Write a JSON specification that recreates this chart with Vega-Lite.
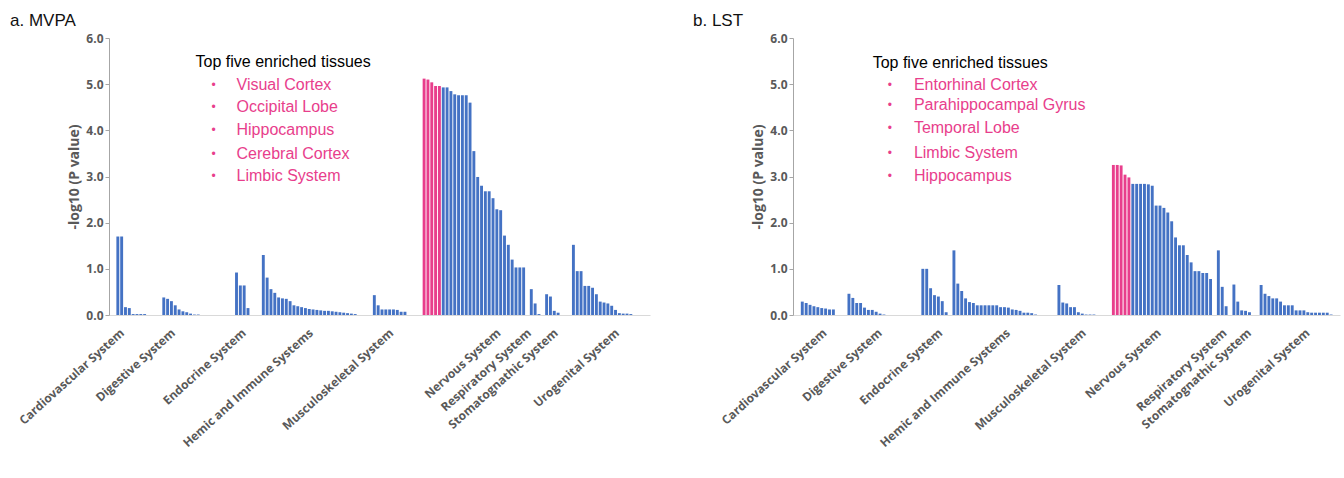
{
  "$schema": "https://vega.github.io/schema/vega-lite/v6.json",
  "background": "white",
  "padding": {"left": 10, "top": 12, "right": 4, "bottom": 0},
  "spacing": 43,
  "config": {
    "view": {"stroke": null},
    "axis": {
      "labelFont": "Open Sans", "labelFontWeight": "bold", "labelColor": "#595959",
      "titleFont": "Open Sans", "titleFontWeight": "bold", "titleColor": "#595959"
    }
  },
  "datasets": {
    "mvpa": [
      {"i": 0, "v": 1.70, "hl": "no"}, {"i": 1, "v": 1.70, "hl": "no"}, {"i": 2, "v": 0.17, "hl": "no"}, {"i": 3, "v": 0.15, "hl": "no"},
      {"i": 4, "v": 0.02, "hl": "no"}, {"i": 5, "v": 0.02, "hl": "no"}, {"i": 6, "v": 0.02, "hl": "no"}, {"i": 7, "v": 0.02, "hl": "no"},
      {"i": 12, "v": 0.38, "hl": "no"}, {"i": 13, "v": 0.35, "hl": "no"}, {"i": 14, "v": 0.30, "hl": "no"}, {"i": 15, "v": 0.21, "hl": "no"},
      {"i": 16, "v": 0.12, "hl": "no"}, {"i": 17, "v": 0.08, "hl": "no"}, {"i": 18, "v": 0.06, "hl": "no"}, {"i": 19, "v": 0.03, "hl": "no"},
      {"i": 20, "v": 0.01, "hl": "no"}, {"i": 21, "v": 0.01, "hl": "no"},
      {"i": 31, "v": 0.92, "hl": "no"}, {"i": 32, "v": 0.64, "hl": "no"}, {"i": 33, "v": 0.64, "hl": "no"}, {"i": 34, "v": 0.15, "hl": "no"},
      {"i": 38, "v": 1.30, "hl": "no"}, {"i": 39, "v": 0.81, "hl": "no"}, {"i": 40, "v": 0.56, "hl": "no"}, {"i": 41, "v": 0.48, "hl": "no"},
      {"i": 42, "v": 0.38, "hl": "no"}, {"i": 43, "v": 0.36, "hl": "no"}, {"i": 44, "v": 0.35, "hl": "no"}, {"i": 45, "v": 0.30, "hl": "no"},
      {"i": 46, "v": 0.21, "hl": "no"}, {"i": 47, "v": 0.19, "hl": "no"}, {"i": 48, "v": 0.17, "hl": "no"}, {"i": 49, "v": 0.15, "hl": "no"},
      {"i": 50, "v": 0.13, "hl": "no"}, {"i": 51, "v": 0.12, "hl": "no"}, {"i": 52, "v": 0.11, "hl": "no"}, {"i": 53, "v": 0.10, "hl": "no"},
      {"i": 54, "v": 0.09, "hl": "no"}, {"i": 55, "v": 0.09, "hl": "no"}, {"i": 56, "v": 0.08, "hl": "no"}, {"i": 57, "v": 0.07, "hl": "no"},
      {"i": 58, "v": 0.06, "hl": "no"}, {"i": 59, "v": 0.05, "hl": "no"}, {"i": 60, "v": 0.04, "hl": "no"}, {"i": 61, "v": 0.03, "hl": "no"},
      {"i": 62, "v": 0.02, "hl": "no"},
      {"i": 67, "v": 0.43, "hl": "no"}, {"i": 68, "v": 0.21, "hl": "no"}, {"i": 69, "v": 0.12, "hl": "no"}, {"i": 70, "v": 0.12, "hl": "no"},
      {"i": 71, "v": 0.12, "hl": "no"}, {"i": 72, "v": 0.12, "hl": "no"}, {"i": 73, "v": 0.11, "hl": "no"}, {"i": 74, "v": 0.07, "hl": "no"},
      {"i": 75, "v": 0.07, "hl": "no"},
      {"i": 80, "v": 5.12, "hl": "yes"}, {"i": 81, "v": 5.10, "hl": "yes"}, {"i": 82, "v": 5.04, "hl": "yes"}, {"i": 83, "v": 4.96, "hl": "yes"},
      {"i": 84, "v": 4.96, "hl": "yes"},
      {"i": 85, "v": 4.93, "hl": "no"}, {"i": 86, "v": 4.93, "hl": "no"}, {"i": 87, "v": 4.85, "hl": "no"}, {"i": 88, "v": 4.78, "hl": "no"},
      {"i": 89, "v": 4.76, "hl": "no"}, {"i": 90, "v": 4.76, "hl": "no"}, {"i": 91, "v": 4.76, "hl": "no"}, {"i": 92, "v": 4.60, "hl": "no"},
      {"i": 93, "v": 3.55, "hl": "no"}, {"i": 94, "v": 2.99, "hl": "no"}, {"i": 95, "v": 2.80, "hl": "no"}, {"i": 96, "v": 2.68, "hl": "no"},
      {"i": 97, "v": 2.68, "hl": "no"}, {"i": 98, "v": 2.53, "hl": "no"}, {"i": 99, "v": 2.29, "hl": "no"}, {"i": 100, "v": 2.27, "hl": "no"},
      {"i": 101, "v": 1.72, "hl": "no"}, {"i": 102, "v": 1.52, "hl": "no"}, {"i": 103, "v": 1.20, "hl": "no"}, {"i": 104, "v": 1.03, "hl": "no"},
      {"i": 105, "v": 1.03, "hl": "no"}, {"i": 106, "v": 1.03, "hl": "no"},
      {"i": 108, "v": 0.56, "hl": "no"}, {"i": 109, "v": 0.25, "hl": "no"}, {"i": 110, "v": 0.02, "hl": "no"},
      {"i": 112, "v": 0.45, "hl": "no"}, {"i": 113, "v": 0.40, "hl": "no"}, {"i": 114, "v": 0.09, "hl": "no"}, {"i": 115, "v": 0.05, "hl": "no"},
      {"i": 119, "v": 1.52, "hl": "no"}, {"i": 120, "v": 0.95, "hl": "no"}, {"i": 121, "v": 0.95, "hl": "no"}, {"i": 122, "v": 0.63, "hl": "no"},
      {"i": 123, "v": 0.63, "hl": "no"}, {"i": 124, "v": 0.59, "hl": "no"}, {"i": 125, "v": 0.45, "hl": "no"}, {"i": 126, "v": 0.29, "hl": "no"},
      {"i": 127, "v": 0.27, "hl": "no"}, {"i": 128, "v": 0.25, "hl": "no"}, {"i": 129, "v": 0.20, "hl": "no"}, {"i": 130, "v": 0.11, "hl": "no"},
      {"i": 131, "v": 0.04, "hl": "no"}, {"i": 132, "v": 0.03, "hl": "no"}, {"i": 133, "v": 0.03, "hl": "no"}, {"i": 134, "v": 0.02, "hl": "no"}
    ],
    "lst": [
      {"i": 0, "v": 0.29, "hl": "no"}, {"i": 1, "v": 0.26, "hl": "no"}, {"i": 2, "v": 0.22, "hl": "no"}, {"i": 3, "v": 0.19, "hl": "no"},
      {"i": 4, "v": 0.17, "hl": "no"}, {"i": 5, "v": 0.15, "hl": "no"}, {"i": 6, "v": 0.14, "hl": "no"}, {"i": 7, "v": 0.12, "hl": "no"},
      {"i": 8, "v": 0.12, "hl": "no"},
      {"i": 12, "v": 0.46, "hl": "no"}, {"i": 13, "v": 0.37, "hl": "no"}, {"i": 14, "v": 0.26, "hl": "no"}, {"i": 15, "v": 0.26, "hl": "no"},
      {"i": 16, "v": 0.16, "hl": "no"}, {"i": 17, "v": 0.11, "hl": "no"}, {"i": 18, "v": 0.11, "hl": "no"}, {"i": 19, "v": 0.07, "hl": "no"},
      {"i": 20, "v": 0.03, "hl": "no"}, {"i": 21, "v": 0.01, "hl": "no"},
      {"i": 31, "v": 1.00, "hl": "no"}, {"i": 32, "v": 1.00, "hl": "no"}, {"i": 33, "v": 0.58, "hl": "no"}, {"i": 34, "v": 0.43, "hl": "no"},
      {"i": 35, "v": 0.40, "hl": "no"}, {"i": 36, "v": 0.30, "hl": "no"}, {"i": 37, "v": 0.06, "hl": "no"},
      {"i": 39, "v": 1.40, "hl": "no"}, {"i": 40, "v": 0.68, "hl": "no"}, {"i": 41, "v": 0.52, "hl": "no"}, {"i": 42, "v": 0.36, "hl": "no"},
      {"i": 43, "v": 0.28, "hl": "no"}, {"i": 44, "v": 0.26, "hl": "no"}, {"i": 45, "v": 0.21, "hl": "no"}, {"i": 46, "v": 0.21, "hl": "no"},
      {"i": 47, "v": 0.21, "hl": "no"}, {"i": 48, "v": 0.21, "hl": "no"}, {"i": 49, "v": 0.21, "hl": "no"}, {"i": 50, "v": 0.21, "hl": "no"},
      {"i": 51, "v": 0.17, "hl": "no"}, {"i": 52, "v": 0.17, "hl": "no"}, {"i": 53, "v": 0.16, "hl": "no"}, {"i": 54, "v": 0.12, "hl": "no"},
      {"i": 55, "v": 0.11, "hl": "no"}, {"i": 56, "v": 0.09, "hl": "no"}, {"i": 57, "v": 0.05, "hl": "no"}, {"i": 58, "v": 0.05, "hl": "no"},
      {"i": 59, "v": 0.04, "hl": "no"}, {"i": 60, "v": 0.01, "hl": "no"},
      {"i": 66, "v": 0.65, "hl": "no"}, {"i": 67, "v": 0.27, "hl": "no"}, {"i": 68, "v": 0.25, "hl": "no"}, {"i": 69, "v": 0.17, "hl": "no"},
      {"i": 70, "v": 0.17, "hl": "no"}, {"i": 71, "v": 0.06, "hl": "no"}, {"i": 72, "v": 0.03, "hl": "no"}, {"i": 73, "v": 0.01, "hl": "no"},
      {"i": 74, "v": 0.01, "hl": "no"}, {"i": 75, "v": 0.01, "hl": "no"},
      {"i": 80, "v": 3.25, "hl": "yes"}, {"i": 81, "v": 3.25, "hl": "yes"}, {"i": 82, "v": 3.24, "hl": "yes"}, {"i": 83, "v": 3.04, "hl": "yes"},
      {"i": 84, "v": 2.98, "hl": "yes"},
      {"i": 85, "v": 2.84, "hl": "no"}, {"i": 86, "v": 2.84, "hl": "no"}, {"i": 87, "v": 2.84, "hl": "no"}, {"i": 88, "v": 2.84, "hl": "no"},
      {"i": 89, "v": 2.83, "hl": "no"}, {"i": 90, "v": 2.80, "hl": "no"}, {"i": 91, "v": 2.37, "hl": "no"}, {"i": 92, "v": 2.37, "hl": "no"},
      {"i": 93, "v": 2.32, "hl": "no"}, {"i": 94, "v": 2.22, "hl": "no"}, {"i": 95, "v": 2.03, "hl": "no"}, {"i": 96, "v": 1.68, "hl": "no"},
      {"i": 97, "v": 1.51, "hl": "no"}, {"i": 98, "v": 1.51, "hl": "no"}, {"i": 99, "v": 1.30, "hl": "no"}, {"i": 100, "v": 1.14, "hl": "no"},
      {"i": 101, "v": 0.95, "hl": "no"}, {"i": 102, "v": 0.95, "hl": "no"}, {"i": 103, "v": 0.91, "hl": "no"}, {"i": 104, "v": 0.91, "hl": "no"},
      {"i": 105, "v": 0.78, "hl": "no"},
      {"i": 107, "v": 1.40, "hl": "no"}, {"i": 108, "v": 0.61, "hl": "no"}, {"i": 109, "v": 0.19, "hl": "no"},
      {"i": 111, "v": 0.66, "hl": "no"}, {"i": 112, "v": 0.29, "hl": "no"}, {"i": 113, "v": 0.10, "hl": "no"}, {"i": 114, "v": 0.09, "hl": "no"},
      {"i": 115, "v": 0.06, "hl": "no"},
      {"i": 118, "v": 0.65, "hl": "no"}, {"i": 119, "v": 0.46, "hl": "no"}, {"i": 120, "v": 0.41, "hl": "no"}, {"i": 121, "v": 0.36, "hl": "no"},
      {"i": 122, "v": 0.36, "hl": "no"}, {"i": 123, "v": 0.29, "hl": "no"}, {"i": 124, "v": 0.21, "hl": "no"}, {"i": 125, "v": 0.21, "hl": "no"},
      {"i": 126, "v": 0.21, "hl": "no"}, {"i": 127, "v": 0.10, "hl": "no"}, {"i": 128, "v": 0.10, "hl": "no"}, {"i": 129, "v": 0.10, "hl": "no"},
      {"i": 130, "v": 0.06, "hl": "no"}, {"i": 131, "v": 0.05, "hl": "no"}, {"i": 132, "v": 0.05, "hl": "no"}, {"i": 133, "v": 0.05, "hl": "no"},
      {"i": 134, "v": 0.05, "hl": "no"}, {"i": 135, "v": 0.05, "hl": "no"}, {"i": 136, "v": 0.01, "hl": "no"}
    ],
    "notes_mvpa": [
      {"i": 20.3, "v": 5.48, "kind": "head", "t": "Top five enriched tissues"},
      {"i": 31, "v": 4.98, "kind": "item", "t": "Visual Cortex"},
      {"i": 31, "v": 4.50, "kind": "item", "t": "Occipital Lobe"},
      {"i": 31, "v": 4.00, "kind": "item", "t": "Hippocampus"},
      {"i": 31, "v": 3.48, "kind": "item", "t": "Cerebral Cortex"},
      {"i": 31, "v": 3.01, "kind": "item", "t": "Limbic System"}
    ],
    "notes_lst": [
      {"i": 18.1, "v": 5.46, "kind": "head", "t": "Top five enriched tissues"},
      {"i": 28.7, "v": 4.99, "kind": "item", "t": "Entorhinal Cortex"},
      {"i": 28.7, "v": 4.54, "kind": "item", "t": "Parahippocampal Gyrus"},
      {"i": 28.7, "v": 4.04, "kind": "item", "t": "Temporal Lobe"},
      {"i": 28.7, "v": 3.50, "kind": "item", "t": "Limbic System"},
      {"i": 28.7, "v": 3.02, "kind": "item", "t": "Hippocampus"}
    ]
  },
  "hconcat": [
    {
      "width": 541,
      "height": 277,
      "title": {"text": "a. MVPA", "anchor": "start", "frame": "group", "dx": -99, "offset": -11, "baseline": "alphabetic", "font": "Liberation Sans", "fontSize": 17, "fontWeight": "normal", "color": "#111111"},
      "layer": [
        {
          "data": {"name": "mvpa"},
          "mark": {"type": "bar", "width": 2.9},
          "encoding": {
            "x": {
              "field": "i", "type": "quantitative",
              "scale": {"domain": [-1, 137.7], "nice": false, "zero": false},
              "axis": {
                "title": null, "grid": false, "ticks": false, "domainColor": "#D9D9D9",
                "values": [0.2, 13.5, 32, 49.5, 70.5, 98.5, 106.5, 113.5, 129.5],
                "labelExpr": "datum.value < 5 ? 'Cardiovascular System' : datum.value < 20 ? 'Digestive System' : datum.value < 40 ? 'Endocrine System' : datum.value < 60 ? 'Hemic and Immune Systems' : datum.value < 80 ? 'Musculoskeletal System' : datum.value < 100 ? 'Nervous System' : datum.value < 110 ? 'Respiratory System' : datum.value < 120 ? 'Stomatognathic System' : 'Urogenital System'",
                "labelAngle": -42, "labelAlign": "right", "labelBaseline": "top", "labelPadding": 12,
                "labelFontSize": 12, "labelOverlap": false, "labelBound": false, "labelFlush": false
              }
            },
            "y": {
              "field": "v", "type": "quantitative",
              "scale": {"domain": [0, 6], "nice": false},
              "axis": {
                "title": "-log10 (P value)", "titleFontSize": 14, "titlePadding": 4,
                "values": [0, 1, 2, 3, 4, 5, 6], "format": ".1f", "grid": false,
                "labelFontSize": 12, "domainColor": "#A6A6A6", "tickColor": "#A6A6A6", "tickSize": 4
              }
            },
            "color": {"field": "hl", "type": "nominal", "scale": {"domain": ["yes", "no"], "range": ["#E83E8C", "#4472C4"]}, "legend": null}
          }
        },
        {
          "mark": {"type": "rule", "color": "#A6A6A6", "strokeDash": [7, 5], "strokeWidth": 1.6},
          "encoding": {"y": {"datum": 2.27}}
        },
        {
          "data": {"name": "notes_mvpa"},
          "transform": [{"filter": "datum.kind == 'head'"}],
          "mark": {"type": "text", "align": "left", "baseline": "middle", "font": "Liberation Sans", "fontSize": 16, "color": "#000000"},
          "encoding": {"x": {"field": "i", "type": "quantitative"}, "y": {"field": "v", "type": "quantitative"}, "text": {"field": "t"}}
        },
        {
          "data": {"name": "notes_mvpa"},
          "transform": [{"filter": "datum.kind == 'item'"}],
          "mark": {"type": "text", "align": "left", "baseline": "middle", "font": "Liberation Sans", "fontSize": 16, "color": "#E83E8C"},
          "encoding": {"x": {"field": "i", "type": "quantitative"}, "y": {"field": "v", "type": "quantitative"}, "text": {"field": "t"}}
        },
        {
          "data": {"name": "notes_mvpa"},
          "transform": [{"filter": "datum.kind == 'item'"}],
          "mark": {"type": "text", "align": "center", "baseline": "middle", "font": "Liberation Sans", "fontSize": 12, "color": "#E83E8C", "dx": -23, "text": "•"},
          "encoding": {"x": {"field": "i", "type": "quantitative"}, "y": {"field": "v", "type": "quantitative"}}
        }
      ]
    },
    {
      "width": 547,
      "height": 277,
      "title": {"text": "b. LST", "anchor": "start", "frame": "group", "dx": -100, "offset": -11, "baseline": "alphabetic", "font": "Liberation Sans", "fontSize": 17, "fontWeight": "normal", "color": "#111111"},
      "layer": [
        {
          "data": {"name": "lst"},
          "mark": {"type": "bar", "width": 2.9},
          "encoding": {
            "x": {
              "field": "i", "type": "quantitative",
              "scale": {"domain": [-1.1, 137], "nice": false, "zero": false},
              "axis": {
                "title": null, "grid": false, "ticks": false, "domainColor": "#D9D9D9",
                "values": [4.8, 19, 34.6, 52, 71.5, 90.8, 107.7, 114, 129],
                "labelExpr": "datum.value < 10 ? 'Cardiovascular System' : datum.value < 25 ? 'Digestive System' : datum.value < 40 ? 'Endocrine System' : datum.value < 60 ? 'Hemic and Immune Systems' : datum.value < 80 ? 'Musculoskeletal System' : datum.value < 100 ? 'Nervous System' : datum.value < 110 ? 'Respiratory System' : datum.value < 120 ? 'Stomatognathic System' : 'Urogenital System'",
                "labelAngle": -42, "labelAlign": "right", "labelBaseline": "top", "labelPadding": 12,
                "labelFontSize": 12, "labelOverlap": false, "labelBound": false, "labelFlush": false
              }
            },
            "y": {
              "field": "v", "type": "quantitative",
              "scale": {"domain": [0, 6], "nice": false},
              "axis": {
                "title": "-log10 (P value)", "titleFontSize": 14, "titlePadding": 4,
                "values": [0, 1, 2, 3, 4, 5, 6], "format": ".1f", "grid": false,
                "labelFontSize": 12, "domainColor": "#A6A6A6", "tickColor": "#A6A6A6", "tickSize": 4
              }
            },
            "color": {"field": "hl", "type": "nominal", "scale": {"domain": ["yes", "no"], "range": ["#E83E8C", "#4472C4"]}, "legend": null}
          }
        },
        {
          "mark": {"type": "rule", "color": "#A6A6A6", "strokeDash": [7, 5], "strokeWidth": 1.6},
          "encoding": {"y": {"datum": 2.27}}
        },
        {
          "data": {"name": "notes_lst"},
          "transform": [{"filter": "datum.kind == 'head'"}],
          "mark": {"type": "text", "align": "left", "baseline": "middle", "font": "Liberation Sans", "fontSize": 16, "color": "#000000"},
          "encoding": {"x": {"field": "i", "type": "quantitative"}, "y": {"field": "v", "type": "quantitative"}, "text": {"field": "t"}}
        },
        {
          "data": {"name": "notes_lst"},
          "transform": [{"filter": "datum.kind == 'item'"}],
          "mark": {"type": "text", "align": "left", "baseline": "middle", "font": "Liberation Sans", "fontSize": 16, "color": "#E83E8C"},
          "encoding": {"x": {"field": "i", "type": "quantitative"}, "y": {"field": "v", "type": "quantitative"}, "text": {"field": "t"}}
        },
        {
          "data": {"name": "notes_lst"},
          "transform": [{"filter": "datum.kind == 'item'"}],
          "mark": {"type": "text", "align": "center", "baseline": "middle", "font": "Liberation Sans", "fontSize": 12, "color": "#E83E8C", "dx": -24, "text": "•"},
          "encoding": {"x": {"field": "i", "type": "quantitative"}, "y": {"field": "v", "type": "quantitative"}}
        }
      ]
    }
  ]
}
